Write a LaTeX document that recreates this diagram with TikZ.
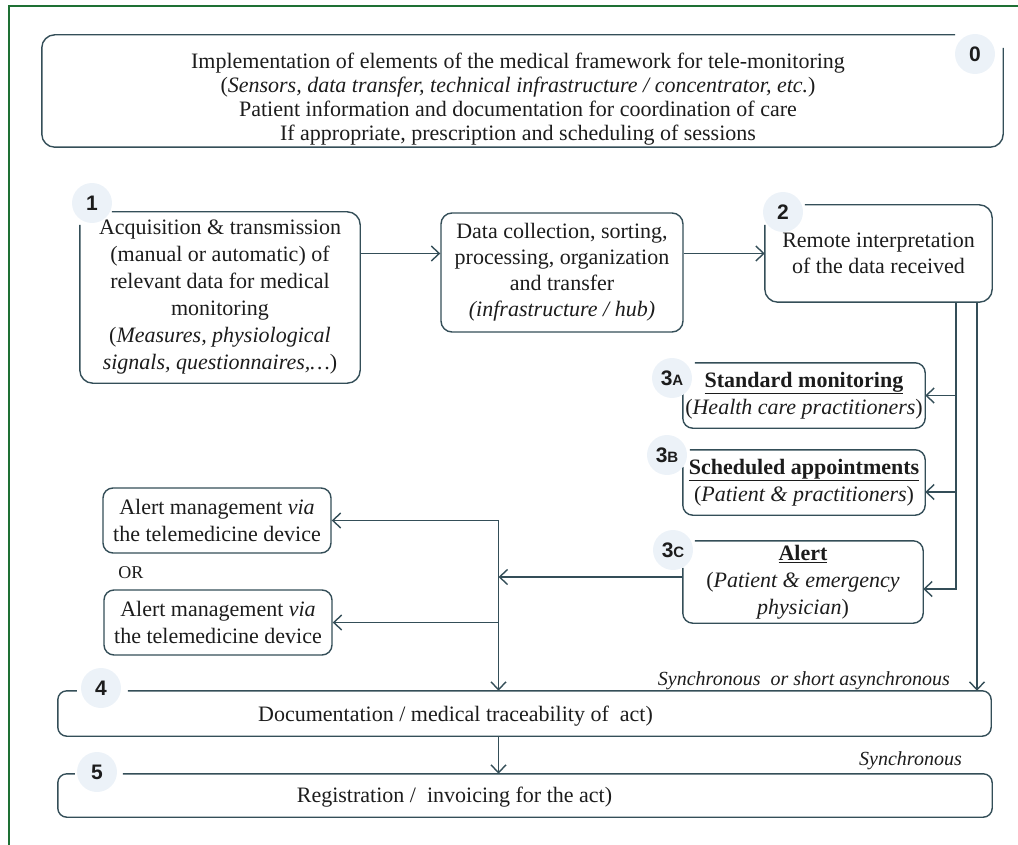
\documentclass[tikz,border=0pt]{standalone}
\usepackage{fontspec}
\setmainfont{Liberation Serif}
\setsansfont{Liberation Sans}
\usetikzlibrary{arrows.meta}

\definecolor{edgegrey}{RGB}{52,78,88}
\definecolor{badgefill}{RGB}{236,242,248}
\definecolor{framegreen}{RGB}{30,112,52}
\definecolor{inkblack}{RGB}{28,28,28}

\tikzset{
  boxarea/.style={inner sep=0pt, align=center, text=inkblack, font=\fontsize{22}{27}\selectfont},
  roundbox/.style={boxarea, draw=edgegrey, line width=1.4pt, rounded corners=11pt},
  frameline/.style={draw=edgegrey, line width=1.4pt, rounded corners=13pt},
  badge/.style={circle, fill=badgefill, inner sep=0pt, minimum size=40pt, text=inkblack, font=\sffamily\bfseries\fontsize{21}{21}\selectfont},
  link/.style={draw=edgegrey, line width=1.4pt},
  arrowlink/.style={link, -{Straight Barb[length=8pt,width=15pt]}},
  timing/.style={inner sep=0pt, text=inkblack, font=\itshape\fontsize{20}{20}\selectfont},
}

\begin{document}
\begin{tikzpicture}[x=1pt,y=-1pt]
      \useasboundingbox (0,0) rectangle (1018,845);

      % green page frame (top and left only)
      \draw[framegreen, line width=2.2pt] (1018,6) -- (9,6) -- (9,845);

      % Box 0: medical framework
      \node[boxarea, minimum width=961pt, minimum height=112pt] (setup) at (522.5,91) {};
      \node[boxarea, font=\fontsize{22}{24.2}\selectfont] (setupText) at (518,99)
        {Implementation of elements of the medical framework for tele-monitoring\\
         (\textit{Sensors, data transfer, technical infrastructure / concentrator, etc.})\\
         Patient information and documentation for coordination of care\\
         If appropriate, prescription and scheduling of sessions};
      \draw[frameline] ([yshift=-13pt]setup.north east) |- (setup.south west) |- ([xshift=-48pt]setup.north east);
      \node[badge] (badge0) at (975,54) {0};

      % Box 1: acquisition
      \node[boxarea, minimum width=280pt, minimum height=171pt] (acq) at (220,297.5)
        {Acquisition \& transmission\\(manual or automatic) of\\relevant data for medical\\monitoring\\
         (\textit{Measures, physiological}\\\textit{signals, questionnaires,\ldots})};
      \draw[frameline] ([yshift=-13pt]acq.north west) |- (acq.south east) |- ([xshift=32pt]acq.north west);
      \node[badge] (badge1) at (92,203) {1};

      % hub box
      \node[roundbox, font=\fontsize{22}{26}\selectfont, minimum width=242pt, minimum height=119pt] (hub) at (562,272.5)
        {Data collection, sorting,\\processing, organization\\and transfer\\\textit{(infrastructure / hub)}};

      % Box 2: remote interpretation
      \node[boxarea, font=\fontsize{22}{26}\selectfont, minimum width=227pt, minimum height=97pt] (remote) at (878.5,253.5)
        {Remote interpretation\\of the data received};
      \draw[frameline] ([yshift=-20pt]remote.north west) |- (remote.south east) |- ([xshift=40pt]remote.north west);
      \node[badge] (badge2) at (783,212) {2};

      % Boxes 3A, 3B, 3C
      \node[boxarea, minimum width=242pt, minimum height=65pt] (stdmon) at (804,395.5)
        {\underline{\textbf{Standard monitoring}}\\(\textit{Health care practitioners})};
      \draw[frameline, rounded corners=10pt] ([yshift=-30pt]stdmon.north west) |- (stdmon.south east) |- ([xshift=12pt]stdmon.north west);
      \node[badge] (badge3a) at (672,378) {3{\fontsize{15}{15}\selectfont A}};

      \node[boxarea, minimum width=242pt, minimum height=65pt] (sched) at (804,482.5)
        {\underline{\textbf{Scheduled appointments}}\\(\textit{Patient \& practitioners})};
      \draw[frameline, rounded corners=10pt] ([yshift=-17pt]sched.north west) |- (sched.south east) |- ([xshift=7pt]sched.north west);
      \node[badge] (badge3b) at (667,455) {3{\fontsize{15}{15}\selectfont B}};

      \node[boxarea, minimum width=240pt, minimum height=82pt] (alert) at (803,582)
        {\underline{\textbf{Alert}}\\(\textit{Patient \& emergency}\\\textit{physician})};
      \draw[frameline, rounded corners=10pt] ([yshift=-27pt]alert.north west) |- (alert.south east) |- ([xshift=12pt]alert.north west);
      \node[badge] (badge3c) at (673,550) {3{\fontsize{15}{15}\selectfont C}};

      % alert management boxes
      \node[roundbox, rounded corners=10pt, minimum width=228pt, minimum height=65pt] (mgmtA) at (217,520.5)
        {Alert management \textit{via}\\the telemedicine device};
      \node[inner sep=0pt, text=inkblack, font=\fontsize{18}{18}\selectfont] (orNote) at (131,573) {OR};
      \node[roundbox, rounded corners=10pt, minimum width=228pt, minimum height=65pt] (mgmtB) at (218,622.5)
        {Alert management \textit{via}\\the telemedicine device};

      % Box 4: documentation
      \node[boxarea, minimum width=933pt, minimum height=45pt] (doc) at (524.5,713.5) {};
      \node[boxarea] (docText) at (455.5,716) {Documentation / medical traceability of~ act)};
      \draw[frameline, rounded corners=9pt] ([xshift=19pt]doc.north west) -| (doc.south west) -| (doc.north east) -- ([xshift=70pt]doc.north west);
      \node[badge] (badge4) at (101,688) {4};
      \node[timing, anchor=east] (syncShort) at (950,681) {Synchronous~ or short asynchronous};

      % Box 5: registration
      \node[boxarea, minimum width=934pt, minimum height=43pt] (reg) at (525,795.5) {};
      \node[boxarea] (regText) at (454.5,797) {Registration /~ invoicing for the act)};
      \draw[frameline, rounded corners=9pt] ([xshift=17pt]reg.north west) -| (reg.south west) -| (reg.north east) -- ([xshift=65pt]reg.north west);
      \node[badge] (badge5) at (97,772) {5};
      \node[timing, anchor=east] (syncOnly) at (962,761) {Synchronous};

      % acquisition -> hub -> remote interpretation
      \draw[arrowlink] (acq.east |- remote.west) -- (hub.west |- remote.west);
      \draw[arrowlink] (hub.east |- remote.west) -- (remote.west);

      % remote interpretation -> 3A, 3B, 3C and documentation
      \coordinate (tapA) at ([xshift=77.5pt]remote.south);
      \coordinate (tapB) at ([xshift=98.5pt]remote.south);
      \coordinate (inB) at ([yshift=-9.5pt]sched.east);
      \draw[arrowlink] (tapA) |- ([yshift=-7pt]alert.east);
      \draw[arrowlink] (tapA |- stdmon.east) -- (stdmon.east);
      \draw[arrowlink] (tapA |- inB) -- (inB);
      \draw[arrowlink] (tapB) -- (tapB |- doc.north);

      % alert -> management and documentation
      \coordinate (drop) at ([xshift=-26pt]doc.north);
      \coordinate (outC) at ([yshift=5pt]alert.west);
      \draw[arrowlink] (outC) -- (outC -| drop);
      \draw[arrowlink] (mgmtA.east -| drop) -- (mgmtA.east);
      \draw[arrowlink] (mgmtA.east -| drop) -- (drop);
      \draw[arrowlink] (mgmtB.east -| drop) -- (mgmtB.east);
      \draw[arrowlink] (drop |- doc.south) -- (drop |- reg.north);
\end{tikzpicture}
\end{document}
